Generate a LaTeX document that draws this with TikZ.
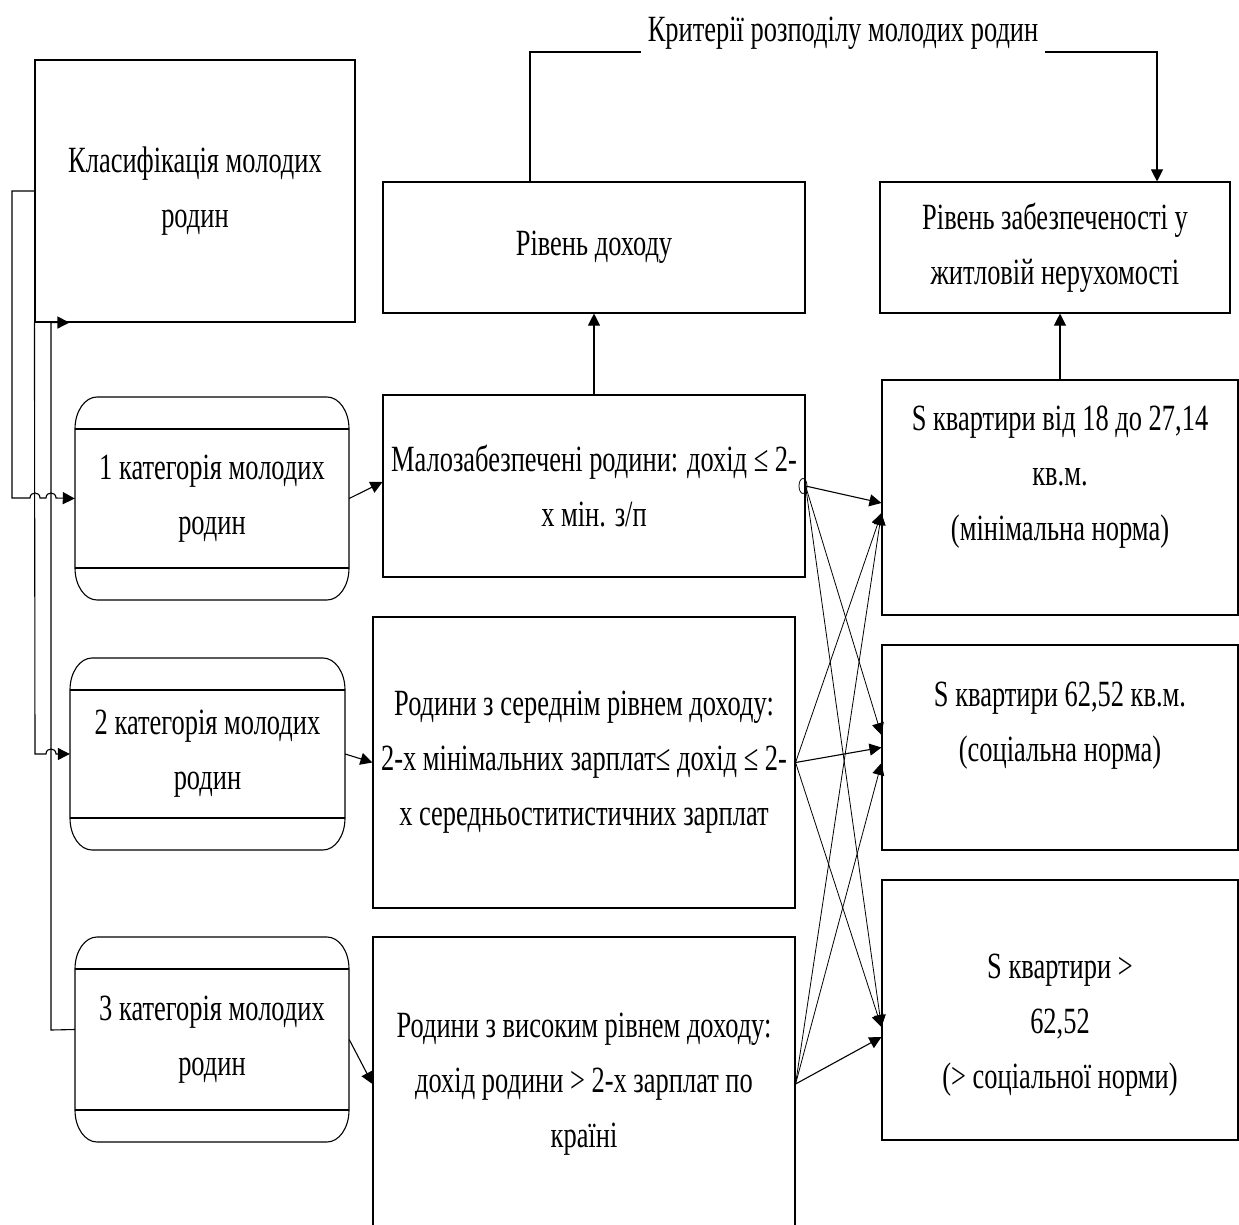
\documentclass[tikz,border=0pt]{standalone}
\usepackage{fontspec}
\setmainfont{Liberation Serif}[FakeStretch=0.715]
\usetikzlibrary{arrows.meta,shapes.geometric}

% frame of a category block: rounded top and bottom bands (left, top, right, bottom)
\newcommand\catframe[4]{%
  \draw[boxline] (#1,#2+32) .. controls (#1,#2+14) and (#1+10,#2) .. (#1+22,#2)
    -- (#3-22,#2) .. controls (#3-10,#2) and (#3,#2+14) .. (#3,#2+32)
    -- (#3,#4-32) .. controls (#3,#4-14) and (#3-10,#4) .. (#3-22,#4)
    -- (#1+22,#4) .. controls (#1+10,#4) and (#1,#4-14) .. (#1,#4-32) -- cycle;
  \draw[boxline] (#1,#2+32) -- (#3,#2+32);
  \draw[boxline] (#1,#4-32) -- (#3,#4-32);}

\tikzset{
  txt/.style={align=center, font=\fontsize{37}{55}\selectfont, inner sep=0pt},
  boxline/.style={line width=1.1pt, black},
  plainbox/.style={draw, boxline, rectangle, inner sep=0pt, txt},
  catbox/.style={rectangle, inner sep=0pt, txt},
  wire/.style={line width=1.1pt},
  thinwire/.style={line width=0.8pt},
  arr/.style={-{Triangle[length=12pt,width=12pt]}},
}

\begin{document}
\begin{tikzpicture}[x=1pt, y=-1pt]
\useasboundingbox (0,0) rectangle (1239,1225);
\clip (0,0) rectangle (1239,1225);

% title
\node[txt, anchor=base] (title) at (843,42) {Критерії розподілу молодих родин};
\coordinate (tl) at (641,52);
\coordinate (tr) at (1045,52);

% classification block
\node[plainbox, minimum width=320, minimum height=262] (cls) at (195,191)
  {Класифікація молодих\\родин};

% criteria blocks
\node[plainbox, minimum width=422, minimum height=131] (inc) at (594,247.5) {Рівень доходу};
\node[plainbox, minimum width=350, minimum height=131] (hou) at (1055,247.5)
  {Рівень забезпеченості у\\житловій нерухомості};

% categories
\node[catbox, minimum width=274, minimum height=203] (c1) at (212,498.5) {1 категорія молодих\\родин};
\node[catbox, minimum width=275, minimum height=192] (c2) at (207.5,754) {2 категорія молодих\\родин};
\node[catbox, minimum width=274, minimum height=205] (c3) at (212,1039.5) {3 категорія молодих\\родин};
\catframe{75}{397}{349}{600}
\catframe{70}{658}{345}{850}
\catframe{75}{937}{349}{1142}

% income groups
\node[plainbox, minimum width=422, minimum height=182] (low) at (594,486)
  {Малозабезпечені родини: дохід ≤ 2-\\х мін. з/п};
\node[plainbox, minimum width=422, minimum height=291] (mid) at (584,762.5)
  {Родини з середнім рівнем доходу:\\2-х мінімальних зарплат≤ дохід ≤ 2-\\х середньоститистичних зарплат};
\node[plainbox, minimum width=422, minimum height=294] (high) at (584,1084)
  {Родини з високим рівнем доходу:\\дохід родини > 2-х зарплат по\\країні};

% housing norms
\node[plainbox, minimum width=356, minimum height=235] (s1) at (1060,497.5) {};
\node[plainbox, minimum width=356, minimum height=205] (s2) at (1060,747.5) {};
\node[plainbox, minimum width=356, minimum height=260] (s3) at (1060,1010) {};
\node[txt] (s1t) at (1060,477) {S квартири від 18 до 27,14\\кв.м.\\(мінімальна норма)};
\node[txt] (s2t) at (1060,726) {S квартири 62,52 кв.м.\\(соціальна норма)};
\node[txt] (s3t) at (1060,1025) {S квартири >\\62,52\\(> соціальної норми)};

% title connectors
\draw[wire] (tl) -| ([xshift=-64]inc.north);
\draw[wire, arr] (tr) -| ([xshift=102]hou.north);

% upward links to criteria
\draw[wire, arr] (low.north) -- (inc.south);
\draw[wire, arr] (s1.north) -- (s1.north |- hou.south);

% left bus with line hops
\draw[wire, arr] (cls.west) -- (12,191) -- (12,498) -- (30,498)
  .. controls (30,491.3) and (40,491.3) .. (40,498) -- (46,498)
  .. controls (46,491.3) and (56,491.3) .. (56,498) -- (c1.west);
\draw[wire, arr] (cls.south west) -- (35,754) -- (46,754)
  .. controls (46,747.3) and (56,747.3) .. (56,754) -- (c2.west);
\draw[wire, arr] ([yshift=10]c3.west) -- (51,1030) |- ([xshift=35]cls.south west);

% categories to income groups
\draw[wire, arr] (c1.east) -- ([yshift=4]low.west);
\draw[wire, arr] (c2.east) -- (mid.west);
\draw[wire, arr] (c3.east) -- (high.west);

% income groups to housing norms
\node[draw, thinwire, ellipse, minimum width=8, minimum height=15, inner sep=0pt] (jn) at (803,486) {};
\draw[wire, arr] (low.east) -- ([yshift=-5.5]s1.west);
\draw[thinwire, arr] (low.east) -- ([yshift=12.5]s2.west);
\draw[thinwire, arr] (low.east) -- ([yshift=-17]s3.west);

\draw[wire, arr] (mid.east) -- (s2.west);
\draw[thinwire, arr] (mid.east) -- ([yshift=-15.5]s1.west);
\draw[thinwire, arr] (mid.east) -- ([yshift=-17]s3.west);

\draw[wire, arr] (high.east) -- ([yshift=-27]s3.west);
\draw[thinwire, arr] (high.east) -- ([yshift=-15.5]s1.west);
\draw[thinwire, arr] (high.east) -- ([yshift=-15.5]s2.west);
\end{tikzpicture}
\end{document}
